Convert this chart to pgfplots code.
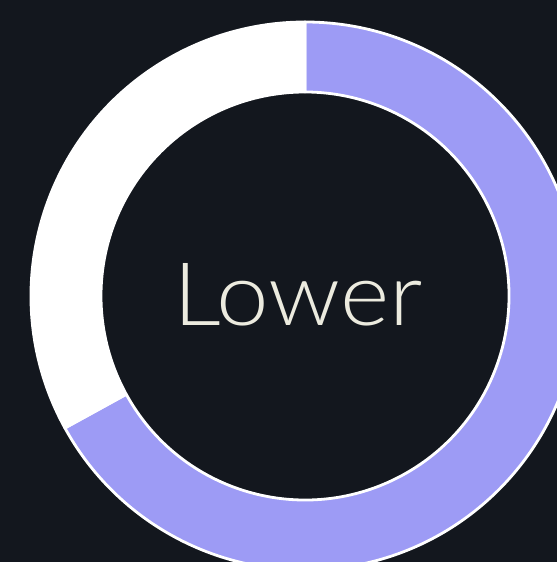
\documentclass[border=0pt]{standalone}
\usepackage{pgfplots}
\pgfplotsset{compat=1.18}
\usepackage{pgfplotstable}
\usepackage{graphicx}
\usepackage{fontspec}
\newfontfamily\lightfont{Lato Light}
\definecolor{bg}{HTML}{13171E}
\definecolor{seg1}{HTML}{9D9BF5}
\definecolor{seg2}{HTML}{FFFFFF}
\definecolor{txt}{HTML}{ECEBDF}
\pgfplotstableread{
label value
A 67
B 33
}\donutdata
\begin{document}
\begin{tikzpicture}
\useasboundingbox (0,0) rectangle (557bp,562bp);
\fill[bg] (0,0) rectangle (557bp,562bp);
\clip (0,0) rectangle (557bp,562bp);
\pgfplotstablegetelem{0}{value}\of\donutdata \let\va\pgfplotsretval
\pgfplotstablegetelem{1}{value}\of\donutdata \let\vb\pgfplotsretval
\pgfmathsetmacro{\tot}{\va+\vb}
\pgfmathsetmacro{\frac}{\va/\tot}
\pgfmathsetmacro{\aA}{90}
\pgfmathsetmacro{\aB}{90-360*\frac}
\pgfmathsetmacro{\aC}{90-360}
\begin{axis}[
  at={(0,0)}, anchor=south west,
  scale only axis, width=557bp, height=562bp,
  xmin=0, xmax=557, ymin=0, ymax=562,
  hide axis, clip=true,
]
\addplot[draw=none] coordinates {(0,0) (557,562)};
\def\cx{305}\def\cy{266}
\fill[seg1, draw=white, line width=2.8bp, line join=round]
  (axis cs:\cx,\cy) ++(\aA:274bp) arc[start angle=\aA, end angle=\aB, radius=274bp]
  -- ([shift={(\aB:204bp)}]axis cs:\cx,\cy) arc[start angle=\aB, end angle=\aA, radius=204bp] -- cycle;
\fill[seg2, draw=white, line width=2.8bp, line join=round]
  (axis cs:\cx,\cy) ++(\aB:274bp) arc[start angle=\aB, end angle=\aC, radius=274bp]
  -- ([shift={(\aC:204bp)}]axis cs:\cx,\cy) arc[start angle=\aC, end angle=\aB, radius=204bp] -- cycle;
\node[text=txt, font=\lightfont\fontsize{88}{88}\selectfont, anchor=base, inner sep=0pt] at (axis cs:298,236) {\scalebox{1.076}[1]{Lower}};
\end{axis}
\end{tikzpicture}
\end{document}
